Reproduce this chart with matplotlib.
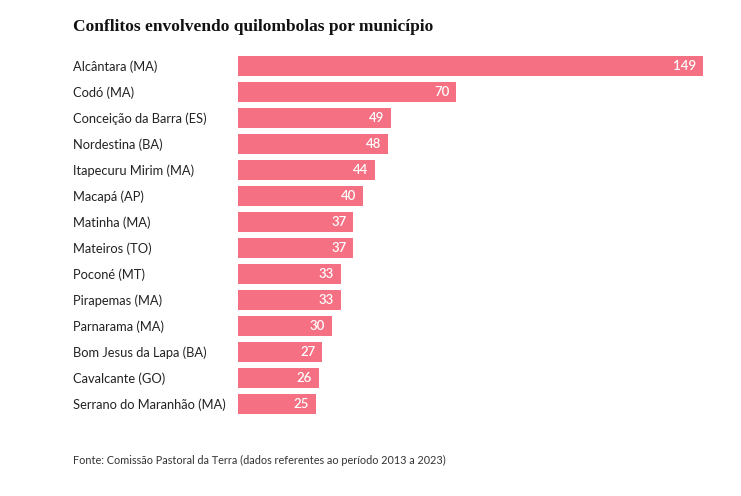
import matplotlib
matplotlib.use("Agg")
import matplotlib.pyplot as plt
from matplotlib.transforms import blended_transform_factory

municipios = ["Alcântara (MA)", "Codó (MA)", "Conceição da Barra (ES)", "Nordestina (BA)",
              "Itapecuru Mirim (MA)", "Macapá (AP)", "Matinha (MA)", "Mateiros (TO)",
              "Poconé (MT)", "Pirapemas (MA)", "Parnarama (MA)", "Bom Jesus da Lapa (BA)",
              "Cavalcante (GO)", "Serrano do Maranhão (MA)"]
conflitos = [149, 70, 49, 48, 44, 40, 37, 37, 33, 33, 30, 27, 26, 25]

W, H = 741, 496
fig = plt.figure(figsize=(W/100, H/100), dpi=100)
fig.patch.set_facecolor("white")

left, right = 238, 703
top, bottom = 53, 417
ax = fig.add_axes([left/W, 1-bottom/H, (right-left)/W, (bottom-top)/H])
ax.set_xlim(0, 149)
ax.set_ylim(len(municipios)-0.5, -0.5)
ax.axis("off")

color = "#f47082"
ys = list(range(len(municipios)))
ax.barh(ys, conflitos, height=20/26, color=color, linewidth=0)

sans = ["Lato", "DejaVu Sans"]
tr = blended_transform_factory(fig.transFigure, ax.transData)
for y, name, v in zip(ys, municipios, conflitos):
    ax.text(73/W, y + 0.04, name, transform=tr, ha="left", va="center",
            fontsize=9.3, color="#222222", family=sans)
    ax.annotate(str(v), (v, y), xytext=(-5, 0), textcoords="offset points",
                ha="right", va="center", fontsize=9.5, color="white",
                fontweight="semibold", family=sans)

fig.text(73/W, 1-27/H, "Conflitos envolvendo quilombolas por município",
         ha="left", va="center", fontsize=12.5, fontweight="bold",
         color="#121212", family=["Liberation Serif"])
fig.text(73/W, 1-460/H, "Fonte: Comissão Pastoral da Terra (dados referentes ao período 2013 a 2023)",
         ha="left", va="center", fontsize=7.85, color="#333333", family=sans)

fig.savefig("out.png", dpi=100)
